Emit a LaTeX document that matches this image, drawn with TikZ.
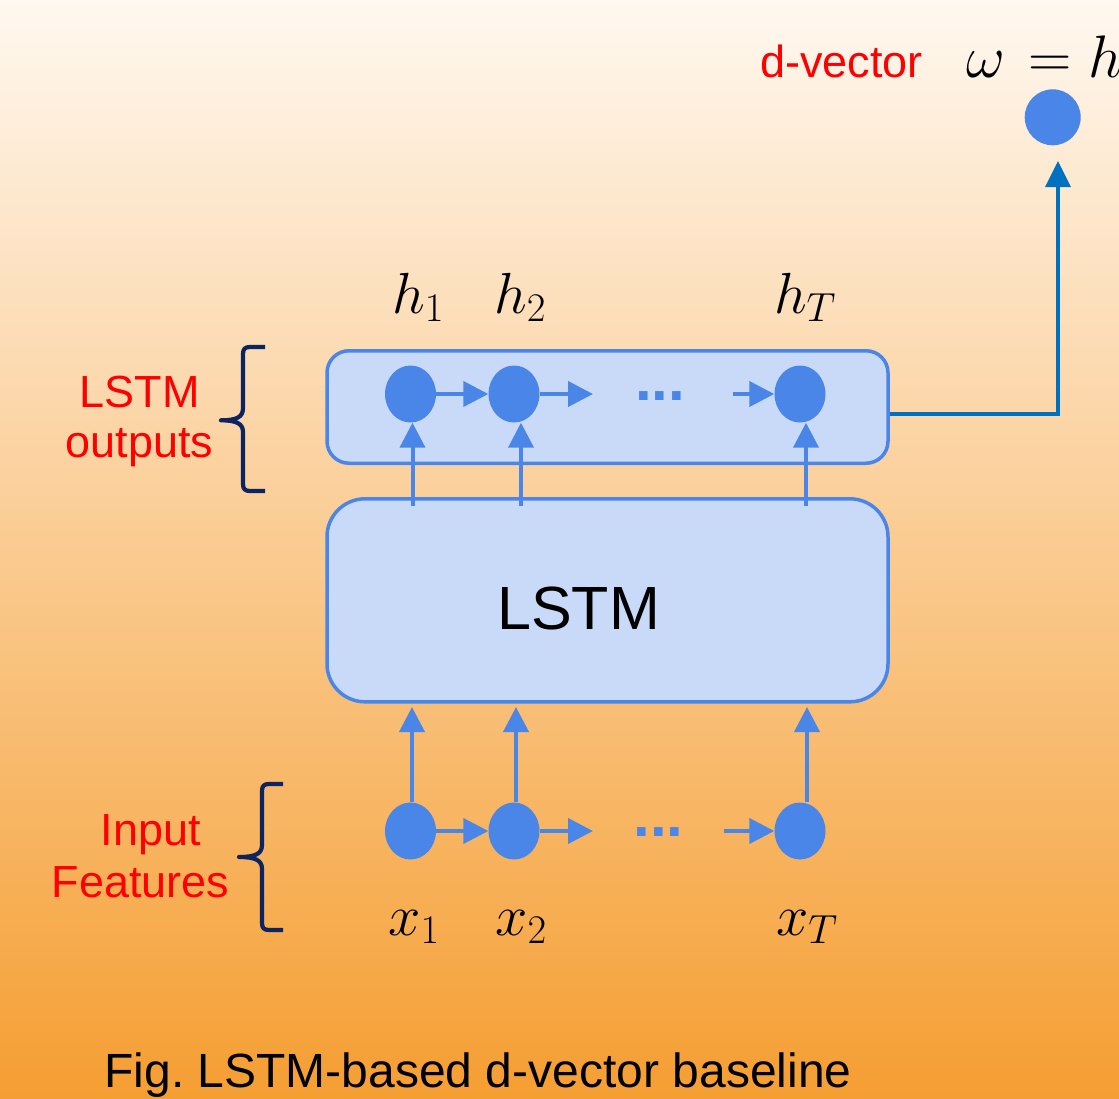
\RequirePackage{fix-cm}
\documentclass[tikz,border=0pt]{standalone}
\usepackage[no-math]{fontspec}
\setmainfont{Liberation Sans}
\usetikzlibrary{arrows.meta,calc,shapes.geometric}

\definecolor{boxfill}{RGB}{201,218,248}
\definecolor{nodeblue}{RGB}{74,134,232}
\definecolor{dvblue}{RGB}{0,112,192}
\definecolor{bgtop}{RGB}{255,248,240}
\definecolor{bgbot}{RGB}{245,158,50}
\definecolor{bracecol}{RGB}{12,36,97}

\begin{document}
\begin{tikzpicture}[x=1pt,y=-1pt,
  unit/.style={ellipse, fill=nodeblue, draw=none, minimum width=51pt, minimum height=57pt, inner sep=0pt},
  dvunit/.style={circle, fill=nodeblue, draw=none, minimum size=56pt, inner sep=0pt},
  layerbox/.style={draw=nodeblue, line width=3.5pt, fill=boxfill, rounded corners=#1, inner sep=0pt},
  flow/.style={draw=nodeblue, line width=4pt, -{Triangle[length=25pt,width=25pt]}},
  dvflow/.style={draw=dvblue, line width=3.5pt, -{Triangle[length=26pt,width=25pt]}},
  redlabel/.style={text=red, font=\fontsize{45}{50}\selectfont, align=center, inner sep=0pt},
  mathlabel/.style={font=\fontsize{58}{60}\selectfont, inner sep=0pt},
  dotlabel/.style={text=nodeblue, font=\fontsize{60}{60}\selectfont\bfseries, inner sep=0pt},
  bracestyle/.style={draw=bracecol, line width=4.2pt, line join=round},
]
% background
\fill[top color=bgtop, bottom color=bgbot] (0,0) rectangle (1119,1098);
\useasboundingbox (0,0) rectangle (1119,1098);

% boxes
\node[layerbox=22pt, minimum width=561pt, minimum height=112.5pt] (outbox) at (607.5,407) {};
\node[layerbox=38pt, minimum width=561pt, minimum height=203pt] (lstm) at (607.5,600.3) {};
\node[anchor=base, font=\fontsize{61}{61}\selectfont, inner sep=0pt] (lstmlabel) at (578.7,629.3) {LSTM};

% output units
\node[unit] (h1) at (410.5,394) {};
\node[unit] (h2) at (514,394) {};
\node[unit] (hT) at (800,394) {};
\coordinate (hfree) at (593,394);
\coordinate (hin) at (733,394);
\node[dotlabel, anchor=base] (hdots) at (660,400.5) {...};
\draw[flow] (h1) -- (h2);
\draw[flow] (h2) -- (hfree);
\draw[flow] (hin) -- (hT);

% input units
\node[unit] (x1) at (410.5,831) {};
\node[unit] (x2) at (514,831) {};
\node[unit] (xT) at (800,831) {};
\coordinate (xfree) at (593,831);
\coordinate (xin) at (724,831);
\node[dotlabel, anchor=base] (xdots) at (658.5,836.5) {...};
\draw[flow] (x1) -- (x2);
\draw[flow] (x2) -- (xfree);
\draw[flow] (xin) -- (xT);

% LSTM -> outputs
\coordinate (s1) at (412.5,506);
\coordinate (s2) at (521,506);
\coordinate (sT) at (806,506);
\draw[flow] (s1) -- (s1 |- h1.south);
\draw[flow] (s2) -- (s2 |- h2.south);
\draw[flow] (sT) -- (sT |- hT.south);

% inputs -> LSTM
\coordinate (t1) at (412,707);
\coordinate (t2) at (516,707);
\coordinate (tT) at (807,707);
\draw[flow] (t1 |- x1.north) -- (t1);
\draw[flow] (t2 |- x2.north) -- (t2);
\draw[flow] (tT |- xT.north) -- (tT);

% d-vector
\node[dvunit] (dv) at (1052.7,117.3) {};
\coordinate (corner) at (1058,414);
\draw[dvflow, shorten >=15.5pt] (outbox.east |- corner) -- (corner) -- (corner |- dv.south);
\node[redlabel, anchor=base] (dvlabel) at (841.7,77) {d-vector};
\node[font=\fontsize{60}{60}\selectfont, inner sep=0pt, anchor=base west] (omega) at (966,77) {$\omega\mskip7mu{=}\mskip5mu h$};

% math labels
\node[mathlabel, anchor=base] (lh1) at (418,313) {$h_1$};
\node[mathlabel, anchor=base] (lh2) at (520,313) {$h_2$};
\node[mathlabel, anchor=base] (lhT) at (805,313) {$h_T$};
\node[mathlabel, anchor=base] (lx1) at (414,935) {$x_1$};
\node[mathlabel, anchor=base] (lx2) at (521,935) {$x_2$};
\node[mathlabel, anchor=base] (lxT) at (807,935) {$x_T$};

% braces
\draw[bracestyle] (265,347) -- (250,347) .. controls (245,347) and (243,349) .. (243,354)
  -- (243,408) .. controls (243,417) and (237,420.3) .. (221,420.3)
  .. controls (237,420.3) and (243,424) .. (243,432)
  -- (243,484) .. controls (243,489) and (245,491) .. (250,491) -- (265,491);
\draw[bracestyle] (283,784) -- (269,784) .. controls (264,784) and (262,786) .. (262,791)
  -- (262,845) .. controls (262,854) and (255,857) .. (239,857)
  .. controls (255,857) and (262,860) .. (262,869)
  -- (262,923) .. controls (262,928) and (264,930) .. (269,930) -- (283,930);

% side labels
\node[redlabel, anchor=north] (outlab) at (139.5,375.5) {LSTM\\outputs};
\node[redlabel, anchor=north, font=\fontsize{45}{52}\selectfont] (inlab) at (140.7,814.5) {\hspace*{20.6pt}Input\\Features};

% caption
\node[anchor=base, font=\fontsize{48}{48}\selectfont, inner sep=0pt] (caption) at (478,1087) {Fig.\ LSTM-based d-vector baseline};
\end{tikzpicture}
\end{document}
